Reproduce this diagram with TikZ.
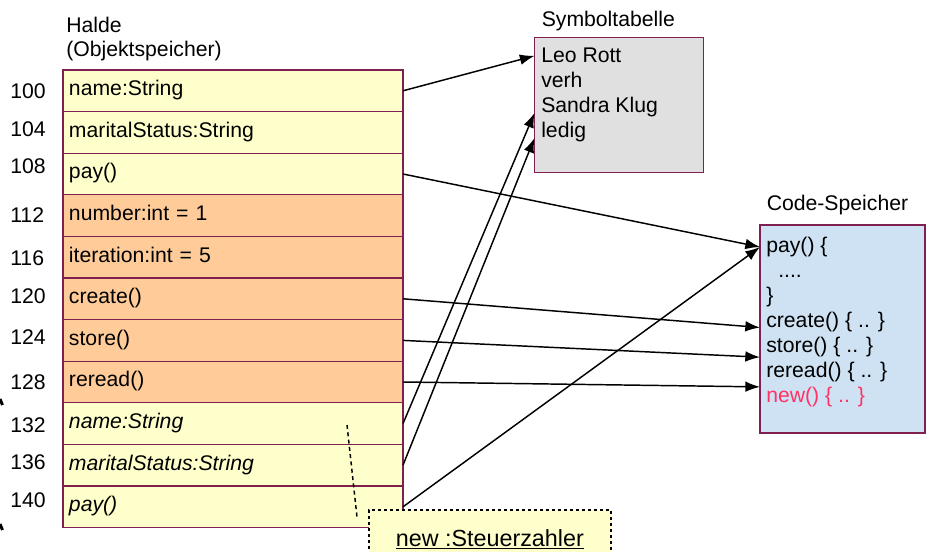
\documentclass[tikz,border=0pt]{standalone}
\usepackage{fontspec}
\setmainfont{Liberation Sans}
\usetikzlibrary{arrows.meta,calc}
\definecolor{frame}{RGB}{128,32,80}
\definecolor{heapyellow}{RGB}{255,255,204}
\definecolor{heaporange}{RGB}{255,204,153}
\definecolor{symgray}{RGB}{224,224,224}
\definecolor{codeblue}{RGB}{207,226,243}
\definecolor{newred}{RGB}{255,51,102}
\begin{document}
\begin{tikzpicture}[x=0.75pt,y=-0.75pt,
  font=\fontsize{15.9}{18.75}\selectfont,
  cell/.style={draw=frame, line width=0.8pt, anchor=north west,
    minimum width=255pt, minimum height=31.2pt, text width=246pt,
    inner xsep=4.5pt, inner ysep=0pt, outer sep=0pt, align=left,
    text height=11pt, text depth=3.5pt},
  plain/.style={cell, fill=heapyellow},
  extra/.style={cell, fill=heaporange},
  inherited/.style={cell, fill=heapyellow, font=\fontsize{15.9}{18.75}\selectfont\itshape},
  addr/.style={anchor=base west, inner sep=0pt},
  txt/.style={anchor=base west, inner sep=0pt},
  store/.style={draw=frame, line width=0.8pt, anchor=north west, inner sep=0pt, outer sep=0pt},
  ptr/.style={line width=1.1pt, -{Latex[length=11pt,width=8pt]}},
]
\useasboundingbox (0,0) rectangle (926,552);
\clip (0,0) rectangle (926,552);

% heap (object store)
\node[txt] (halde) at (66,33) {Halde};
\node[txt] (objsp) at (66,57) {(Objektspeicher)};

\node[plain] (r1) at (63,70) {name:String};
\node[plain] (r2) at (63,111.6) {maritalStatus:String};
\node[plain] (r3) at (63,153.2) {pay()};
\node[extra] (r4) at (63,194.8) {number:int = 1};
\node[extra] (r5) at (63,236.4) {iteration:int = 5};
\node[extra] (r6) at (63,278) {create()};
\node[extra] (r7) at (63,319.6) {store()};
\node[extra] (r8) at (63,361.2) {reread()};
\node[inherited] (r9) at (63,402.8) {name:String};
\node[inherited] (r10) at (63,444.4) {maritalStatus:String};
\node[inherited] (r11) at (63,486) {pay()};

% addresses
\node[addr] (a100) at (10,99) {100};
\node[addr] (a104) at (10,137) {104};
\node[addr] (a108) at (10,174) {108};
\node[addr] (a112) at (10,223) {112};
\node[addr] (a116) at (10,266) {116};
\node[addr] (a120) at (10,304) {120};
\node[addr] (a124) at (10,345) {124};
\node[addr] (a128) at (10,390) {128};
\node[addr] (a132) at (10,433) {132};
\node[addr] (a136) at (10,470) {136};
\node[addr] (a140) at (10,508) {140};

% brace ends at the left border
\draw[line width=2.2pt] (0,399) -- (2.5,405);
\draw[line width=2.2pt] (0,524) -- (2.5,530);

% symbol table
\node[txt] (symtitle) at (541.5,26.5) {Symboltabelle};
\node[store, fill=symgray, minimum width=126.4pt, minimum height=101.6pt] (sym) at (534.5,37.5) {};
\node[txt] (s1) at (541,63) {Leo Rott};
\node[txt] (s2) at (541,88) {verh};
\node[txt] (s3) at (541,113) {Sandra Klug};
\node[txt] (s4) at (541,138) {ledig};

% code store
\node[txt] (codetitle) at (766.5,211) {Code-Speicher};
\node[store, fill=codeblue, minimum width=123.75pt, minimum height=156pt] (code) at (760,225) {};
\node[txt] (c1) at (766,252.5) {pay() \{};
\node[txt] (c2) at (778,277.5) {....};
\node[txt] (c3) at (766,302.5) {\}};
\node[txt] (c4) at (766,327.5) {create() \{ .. \}};
\node[txt] (c5) at (766,352.5) {store() \{ .. \}};
\node[txt] (c6) at (766,377.5) {reread() \{ .. \}};
\node[txt, text=newred] (c7) at (766,402.5) {new() \{ .. \}};

% object note
\node[draw=black, dash pattern=on 2.5pt off 2pt, line width=1.3pt, fill=heapyellow,
  anchor=north west, minimum width=181.5pt, minimum height=46.5pt,
  text height=12pt, text depth=3.5pt, inner sep=0pt,
  font=\fontsize{17.5}{20}\selectfont] (note) at (368,509)
  {\underline{new :Steuerzahler}};
\coordinate (notepin) at (347,425);
\draw[line width=1.1pt, dash pattern=on 3pt off 2.5pt] (notepin) -- ($(note.north west)+(-11,8)$);

% references
\draw[ptr] (r1.east) -- (sym.west |- s1.center);
\draw[ptr] (r9.east) -- (sym.west |- s3.base);
\draw[ptr] (r10.east) -- (sym.west |- s4.base);
\draw[ptr] (r3.east) -- (code.west |- c1.center);
\draw[ptr] (r11.east) -- (code.west |- c1.center);
\draw[ptr] (r6.east) -- (code.west |- c4.base);
\draw[ptr] (r7.east) -- (code.west |- c5.south);
\draw[ptr] (r8.east) -- (code.west |- c7.north);
\end{tikzpicture}
\end{document}
